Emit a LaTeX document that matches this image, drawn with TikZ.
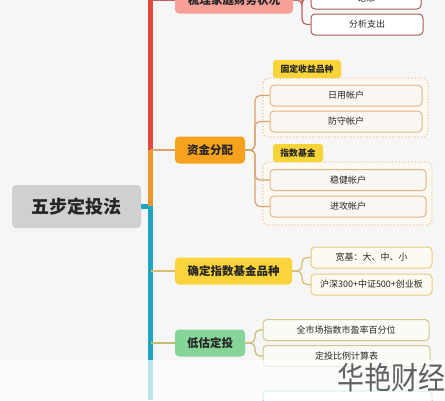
\documentclass[tikz,border=0pt]{standalone}
\usepackage{fontspec}
\setmainfont{Noto Sans CJK SC}
\newfontfamily\wmfont{Noto Sans CJK SC}
\begin{document}
\begin{tikzpicture}[x=1pt,y=-1pt,
  base/.style={rectangle, rounded corners=4pt, inner sep=0pt, align=center, text=black!85},
  rootbox/.style={base, fill=rootgray, minimum width=129pt, minimum height=43pt, font=\fontsize{18}{20}\selectfont\bfseries},
  branch/.style={base, minimum height=27pt, font=\fontsize{11.5}{13}\selectfont\bfseries},
  leaf/.style={base, line width=1pt, minimum height=21pt, font=\fontsize{9}{11}\selectfont},
  leafA/.style={leaf, draw=redleaf, fill=white},
  leafB/.style={leaf, draw=orleaf, fill=orfill},
  leafC/.style={leaf, draw=yelleaf, fill=yelfill},
  leafD/.style={leaf, draw=grnleaf, fill=grnfill},
  tab/.style={base, rounded corners=3pt, fill=tabyel, minimum height=18pt, font=\fontsize{8.8}{10}\selectfont\bfseries},
  group/.style={draw=grpline, dotted, line width=1.2pt, rounded corners=6pt, fill=grpfill},
  trunk/.style={line width=5pt},
  twig/.style={line width=1.2pt, rounded corners=5pt}
]
\definecolor{bg}{HTML}{F6F6F6}
\definecolor{rootgray}{HTML}{D0D0D0}
\definecolor{tred}{HTML}{E04A3F}
\definecolor{torange}{HTML}{F0962C}
\definecolor{tteal}{HTML}{1FA5C1}
\definecolor{redfill}{HTML}{F6A097}
\definecolor{orfill2}{HTML}{F6A21E}
\definecolor{yelfill2}{HTML}{F9D43A}
\definecolor{grnfill2}{HTML}{86D598}
\definecolor{redleaf}{HTML}{A85C55}
\definecolor{orleaf}{HTML}{E2B584}
\definecolor{orfill}{HTML}{FAF6F1}
\definecolor{yelleaf}{HTML}{E8CC7C}
\definecolor{yelfill}{HTML}{FDFAF1}
\definecolor{grnleaf}{HTML}{CFC88A}
\definecolor{grnfill}{HTML}{FBFBF6}
\definecolor{tabyel}{HTML}{F7D438}
\definecolor{grpline}{HTML}{F0CB98}
\definecolor{grpfill}{HTML}{FCF8F2}
\definecolor{redtwig}{HTML}{C0605A}
\definecolor{ortwig}{HTML}{D9A36A}
\definecolor{yeltwig}{HTML}{D6BE6E}
\definecolor{grntwig}{HTML}{C8BC72}
\definecolor{tealleaf}{HTML}{7CCFE0}

\useasboundingbox (0,0) rectangle (445,400);
\clip (0,0) rectangle (445,400);
\fill[bg] (0,0) rectangle (445,400);

% groups and tabs
\draw[group] (263,78) rectangle (428,137);
\draw[group] (263,162) rectangle (432,225);
\node[tab, minimum width=68pt] (tab1) at (307,69) {固定收益品种};
\node[tab, minimum width=50pt] (tab2) at (298,153) {指数基金};

% root
\node[rootbox] (root) at (76.5,206.5) {五步定投法};

% branches
\node[branch, fill=redfill, minimum width=118pt] (b1) at (234,0) {梳理家庭财务状况};
\node[branch, fill=orfill2, minimum width=70pt] (b2) at (210,150) {资金分配};
\node[branch, fill=yelfill2, minimum width=117pt] (b3) at (233.5,271) {确定指数基金品种};
\node[branch, fill=grnfill2, minimum width=70pt] (b4) at (210,343) {低估定投};

% leaves
\node[leafA, minimum width=110pt] (l11) at (366,-1.5) {记账};
\node[leafA, minimum width=112pt] (l12) at (367,24.5) {分析支出};
\node[leafB, minimum width=152pt] (l21) at (346,95.5) {日用帐户};
\node[leafB, minimum width=152pt] (l22) at (346,121.5) {防守帐户};
\node[leafB, minimum width=156pt] (l23) at (348,180) {稳健帐户};
\node[leafB, minimum width=156pt] (l24) at (348,206.5) {进攻帐户};
\node[leafC, minimum width=121pt] (l31) at (371.5,257.5) {宽基：大、中、小};
\node[leafC, minimum width=121pt] (l32) at (371.5,284.5) {沪深300+中证500+创业板};
\node[leafD, minimum width=166pt] (l41) at (346,330) {全市场指数市盈率百分位};
\node[leafD, minimum width=167pt] (l42) at (346.5,356) {定投比例计算表};
\node[leaf, draw=tealleaf, fill=white, minimum width=169pt, minimum height=22pt] (l51) at (347.5,402) {};

% trunk
\coordinate (tj) at (150.5,206);
\coordinate (t1) at (150.5,0);
\coordinate (t2) at (150.5,150);
\coordinate (t3) at (150.5,271);
\coordinate (t4) at (150.5,343);
\coordinate (t5) at (150.5,400);
\draw[trunk, tteal] (root.east |- tj) -- (tj) -- (t5);
\draw[trunk, torange] (tj) -- (t2);
\draw[trunk, tred] (t2) -- (t1);

% twigs from trunk to branches
\draw[twig, redtwig] (t1) -- (b1.west);
\draw[twig, ortwig] (t2) -- (b2.west);
\draw[twig, yeltwig] (t3) -- (b3.west);
\draw[twig, grntwig] (t4) -- (b4.west);

% brackets
\foreach \c in {l11,l12} \draw[twig, redtwig] (b1.east) -- (302,0) |- (\c.west);
\foreach \c in {l21,l22,l23,l24} \draw[twig, ortwig] (b2.east) -- (255,150) |- (\c.west);
\foreach \c in {l31,l32} \draw[twig, yeltwig] (b3.east) -- (302,271) |- (\c.west);
\foreach \c in {l41,l42} \draw[twig, grntwig] (b4.east) -- (255,343) |- (\c.west);

% faded band and watermark
\fill[white, opacity=0.7] (0,360) rectangle (445,400);
\node[anchor=east, inner sep=0pt, text=black!62, font=\wmfont\fontsize{27}{30}\selectfont, yscale=1.15, transform shape] (wm) at (446,378) {华艳财经};
\end{tikzpicture}
\end{document}
